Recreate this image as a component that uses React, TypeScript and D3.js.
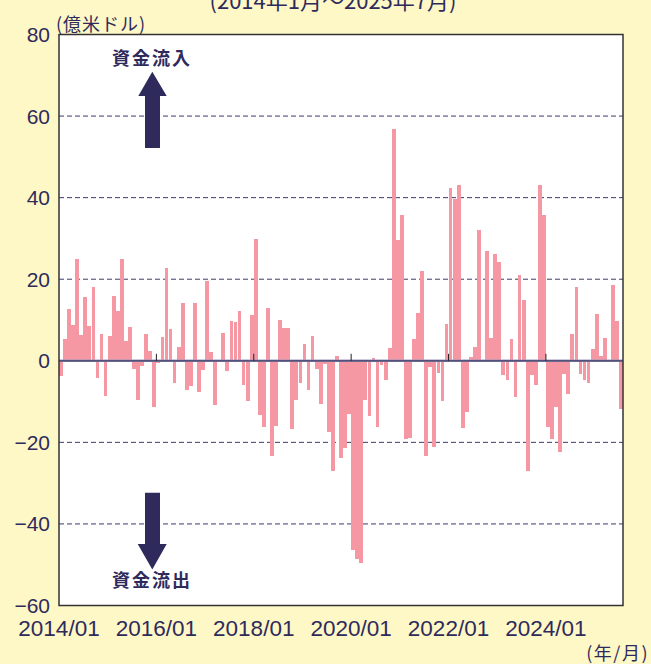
import * as d3 from "d3";

const W = 651;
const H = 664;
const PLOT = { left: 59, right: 623, top: 34.5, bottom: 605.5 };

// monthly fund flows, 2014/01 .. 2025/07 (億米ドル)
const flows = [
  -3.7, 5.3, 12.7, 8.8, 25.0, 6.3, 15.7, 8.5, 18.1, -4.2, 6.5, -8.6,
  6.1, 15.9, 12.2, 25.0, 4.8, 8.3, -2.0, -9.6, -1.2, 6.5, 2.4, -11.3,
  -0.5, 5.8, 22.8, 7.8, -5.4, 3.4, 14.2, -7.1, -6.1, 14.2, -7.6, -2.2,
  19.6, 2.1, -10.8, 0, 6.8, -2.5, 9.8, 9.5, 12.2, -5.9, -9.8, 11.2,
  29.9, -13.3, -16.2, 12.9, -23.3, -16.0, 10.0, 8.0, 8.0, -16.7, -9.6, -5.4,
  4.1, -7.1, 6.1, -2.0, -10.6, -0.7, -17.4, -27.0, 1.2, -23.8, -21.4, -13.0,
  -46.4, -48.6, -49.6, -9.6, -13.5, 0.7, -16.2, -1.0, -4.7, 3.1, 56.9, 29.7,
  35.8, -19.1, -18.9, 5.3, 11.7, 22.0, -23.3, -1.5, -21.1, -2.9, -9.8, 9.0,
  42.4, 39.7, 43.2, -16.5, -12.5, 0.9, 3.4, 32.1, 0, 27.0, 5.6, 26.2,
  24.3, -3.4, -4.7, 5.3, -8.8, 21.1, 14.9, -27.0, -3.4, -5.9, 43.2, 35.8,
  -16.2, -19.1, -11.3, -22.4, -3.2, -8.1, 6.6, 18.1, -3.2, -4.7, -5.4, 2.9,
  11.5, 1.2, 5.6, -0.3, 18.6, 9.8, -11.8,
];

const yTicks = [80, 60, 40, 20, 0, -20, -40, -60];
const gridValues = [60, 40, 20, -20, -40];
const xTickLabels = ["2014/01", "2016/01", "2018/01", "2020/01", "2022/01", "2024/01"];
const xTickIndex = [0, 24, 48, 72, 96, 120];

const BG = "#fef7c6";
const NAVY = "#2e2b5c";
const BAR = "#f598a4";
const NUM_FONT = "'Liberation Sans', Arial, sans-serif";
const JP_FONT = "'Noto Sans CJK JP', sans-serif";

export default function App() {
  const x = d3
    .scaleBand<number>()
    .domain(d3.range(flows.length))
    .range([PLOT.left, PLOT.right])
    .paddingInner(0.08)
    .paddingOuter(0.02);
  const step = (PLOT.right - PLOT.left) / flows.length;
  const slotX = (i: number) => PLOT.left + i * step;

  const y = d3.scaleLinear().domain([-60, 80]).range([PLOT.bottom, PLOT.top]);
  const y0 = y(0);

  const upArrow = d3.line()([
    [152.3, 71.7], [166.7, 96], [160, 96], [160, 148],
    [145, 148], [145, 96], [138.3, 96],
  ]) + "Z";
  const downArrow = d3.line()([
    [145, 492.7], [160, 492.7], [160, 544], [166.7, 544],
    [152.3, 569.5], [137.7, 544], [145, 544],
  ]) + "Z";

  return (
    <svg width={W} height={H} style={{ position: "absolute", left: 0, top: 0 }}>
      <rect width={W} height={H} fill={BG} />

      <text x={333} y={9} textAnchor="middle" fontFamily={JP_FONT} fontSize={22} fill={NAVY}>
        (2014年1月～2025年7月)
      </text>
      <text x={56} y={31} fontFamily={JP_FONT} fontSize={18} letterSpacing={1} fill={NAVY}>
        (億米ドル)
      </text>

      <rect
        x={PLOT.left}
        y={PLOT.top}
        width={PLOT.right - PLOT.left}
        height={PLOT.bottom - PLOT.top}
        fill="white"
      />

      {gridValues.map((v) => (
        <line
          key={v}
          x1={PLOT.left}
          x2={PLOT.right}
          y1={y(v)}
          y2={y(v)}
          stroke="#3c3a6a"
          strokeWidth={1}
          strokeDasharray="5,3"
        />
      ))}

      {flows.map((v, i) => (
        <rect
          key={i}
          x={x(i)}
          width={x.bandwidth()}
          y={Math.min(y(v), y0)}
          height={Math.abs(y(v) - y0)}
          fill={BAR}
          shapeRendering="crispEdges"
        />
      ))}

      <line x1={PLOT.left} x2={PLOT.right} y1={y0} y2={y0} stroke="#9b98bb" strokeWidth={2.5} />
      <line x1={PLOT.left} x2={PLOT.right} y1={y0} y2={y0} stroke="#3d3a66" strokeWidth={1.2} />

      {xTickIndex.slice(1).map((i) => (
        <line key={i} x1={slotX(i)} x2={slotX(i)} y1={y0} y2={y0 - 7} stroke="#222" strokeWidth={1} />
      ))}

      <rect
        x={PLOT.left}
        y={PLOT.top}
        width={PLOT.right - PLOT.left}
        height={PLOT.bottom - PLOT.top}
        fill="none"
        stroke="#333"
        strokeWidth={1.5}
      />

      {yTicks.map((v) => (
        <text
          key={v}
          x={50}
          y={y(v) + 7.5}
          textAnchor="end"
          fontFamily={NUM_FONT}
          fontSize={21}
          fill={NAVY}
        >
          {v < 0 ? `−${Math.abs(v)}` : v}
        </text>
      ))}

      {xTickLabels.map((label, k) => (
        <text
          key={label}
          x={slotX(xTickIndex[k])}
          y={636}
          textAnchor="middle"
          fontFamily={NUM_FONT}
          fontSize={22.5}
          fill={NAVY}
        >
          {label}
        </text>
      ))}
      <text x={649} y={660} textAnchor="end" fontFamily={JP_FONT} fontSize={18} letterSpacing={1.5} fill={NAVY}>
        (年/月)
      </text>

      <path d={upArrow} fill={NAVY} />
      <path d={downArrow} fill={NAVY} />
      <text
        x={152}
        y={65}
        textAnchor="middle"
        fontFamily={JP_FONT}
        fontWeight="bold"
        fontSize={18}
        letterSpacing={2}
        fill={NAVY}
      >
        資金流入
      </text>
      <text
        x={152}
        y={586.5}
        textAnchor="middle"
        fontFamily={JP_FONT}
        fontWeight="bold"
        fontSize={18}
        letterSpacing={2}
        fill={NAVY}
      >
        資金流出
      </text>
    </svg>
  );
}
